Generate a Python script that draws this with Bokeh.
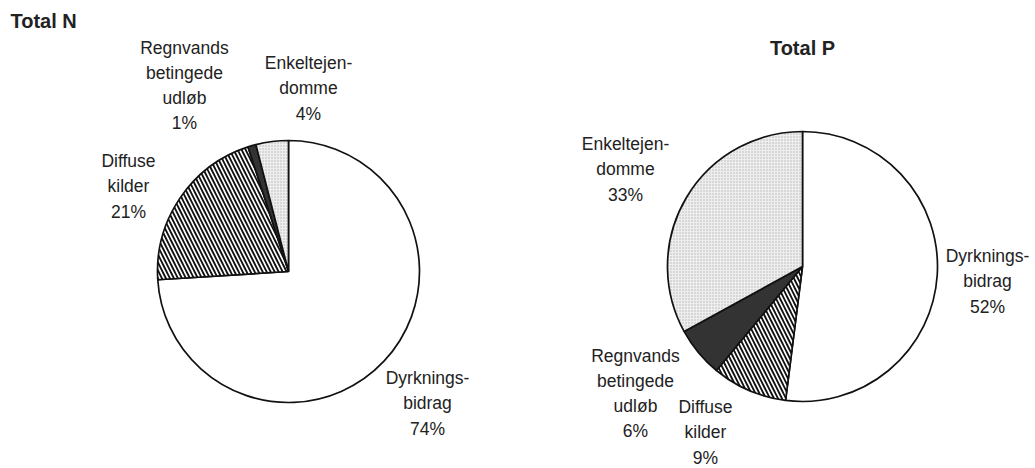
import numpy as np
from bokeh.plotting import figure
from bokeh.models import Range1d, ColumnDataSource
from bokeh.embed import file_html
from bokeh.resources import INLINE
from bokeh.core.properties import value

# ---- data ----
categories = ["Dyrkningsbidrag", "Diffuse kilder", "Regnvands betingede udløb", "Enkeltejendomme"]
label_lines = ["Dyrknings-\nbidrag", "Diffuse\nkilder", "Regnvands\nbetingede\nudløb", "Enkeltejen-\ndomme"]
total_n = [74, 21, 1, 4]
total_p = [52, 9, 6, 33]
titles = ["Total N", "Total P"]

# ---- layout / style ----
W, H = 1035, 468
FONT = "Liberation Sans"
TXT = "#222222"

fills = ["white", "white", "#333333", "#eeeeee"]
hatches = [" ", "\\", " ", "."]
hatch_colors = ["black", "#111111", "black", "#b4b4b4"]
hatch_scales = [6, 8, 6, 3]
hatch_weights = [1, 1.9, 1, 1]

def Y(y_img):
    return H - y_img

pies = [
    dict(vals=total_n, cx=288, cy=271, r=131,
         lab=[(427, 403), (128, 186), (184, 85), (308, 88)],
         title=(10, 20, "left")),
    dict(vals=total_p, cx=802, cy=266, r=135,
         lab=[(987, 281), (705, 432), (635, 393), (625, 169)],
         title=(802, 47, "center")),
]

p = figure(width=W, height=H, x_range=Range1d(0, W), y_range=Range1d(0, H),
           output_backend="svg", toolbar_location=None,
           x_axis_location=None, y_axis_location=None, min_border=0)
p.grid.visible = False
p.outline_line_color = None
p.background_fill_color = "white"
p.border_fill_color = "white"

for i, pie in enumerate(pies):
    vals = np.array(pie["vals"], dtype=float)
    frac = vals / vals.sum()
    cum_end = np.cumsum(frac)
    cum_start = cum_end - frac
    start = np.pi / 2 - 2 * np.pi * cum_end
    end = np.pi / 2 - 2 * np.pi * cum_start
    src = ColumnDataSource(dict(
        x=[pie["cx"]] * len(vals), y=[Y(pie["cy"])] * len(vals),
        start=start, end=end, fill=fills, hatch=hatches, hcol=hatch_colors,
        hscale=hatch_scales, hw=hatch_weights, cat=categories,
    ))
    p.wedge(x="x", y="y", radius=pie["r"], start_angle="start", end_angle="end",
            direction="anticlock", fill_color="fill", hatch_pattern="hatch",
            hatch_color="hcol", hatch_scale="hscale", hatch_weight="hw",
            line_color="#111111", line_width=1.7, source=src)

    texts = [f"{label_lines[k]}\n{pie['vals'][k]}%" for k in range(len(vals))]
    lsrc = ColumnDataSource(dict(
        x=[pt[0] for pt in pie["lab"]], y=[Y(pt[1]) for pt in pie["lab"]], t=texts))
    p.text(x="x", y="y", text="t", source=lsrc, text_align="center",
           text_baseline="middle", text_font=value(FONT), text_font_size="17.5px",
           text_color=TXT, text_line_height=1.26)

    tx, ty, ta = pie["title"]
    p.text(x=[tx], y=[Y(ty)], text=[titles[i]], text_align=ta, text_baseline="middle",
           text_font=value(FONT), text_font_size="20px", text_font_style="bold",
           text_color=TXT)

open("out.html", "w").write(file_html(p, INLINE))
